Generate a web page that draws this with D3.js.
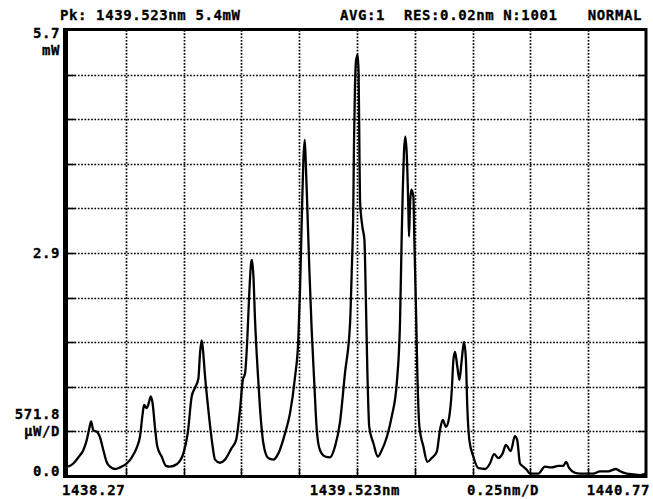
<!DOCTYPE html>
<html>
<head>
<meta charset="utf-8">
<style>
    body { margin: 0; background: white; }
    text { font-family: "DejaVu Sans Mono", "Liberation Mono", monospace; font-weight: bold; font-size: 14px; letter-spacing: 0.6px; fill: black; stroke: black; stroke-width: 0.3px; }
</style>
</head>
<body>
    <svg id="container" width="653" height="499">
        <g id="grid" />
        <g id="trace" />
        <g id="frame" />
        <g id="labels" />
    </svg>
</body>
<script src="https://cdn.jsdelivr.net/npm/d3@7"></script>
<script>
    // spectrum trace (nm, mW)
    let wavelength = [
        1438.271, 1438.293, 1438.315, 1438.336, 1438.351, 1438.362, 1438.370, 1438.379, 1438.397, 1438.408,
        1438.423, 1438.437, 1438.452, 1438.473, 1438.495, 1438.524, 1438.546, 1438.567, 1438.581, 1438.593,
        1438.599, 1438.610, 1438.619, 1438.628, 1438.636, 1438.646, 1438.656, 1438.675, 1438.694, 1438.711,
        1438.740, 1438.769, 1438.788, 1438.805, 1438.819, 1438.834, 1438.841, 1438.848, 1438.853, 1438.863,
        1438.877, 1438.892, 1438.906, 1438.927, 1438.949, 1438.978, 1438.997, 1439.014, 1439.026, 1439.036,
        1439.046, 1439.054, 1439.062, 1439.066, 1439.072, 1439.079, 1439.091, 1439.100, 1439.115, 1439.136,
        1439.158, 1439.180, 1439.209, 1439.230, 1439.252, 1439.266, 1439.274, 1439.281, 1439.288, 1439.294,
        1439.299, 1439.305, 1439.314, 1439.324, 1439.334, 1439.346, 1439.360, 1439.382, 1439.403, 1439.425,
        1439.446, 1439.468, 1439.490, 1439.497, 1439.504, 1439.507, 1439.511, 1439.516, 1439.523, 1439.527,
        1439.530, 1439.533, 1439.543, 1439.552, 1439.559, 1439.565, 1439.573, 1439.591, 1439.610, 1439.627,
        1439.649, 1439.670, 1439.692, 1439.706, 1439.713, 1439.718, 1439.723, 1439.729, 1439.735, 1439.742,
        1439.745, 1439.749, 1439.755, 1439.764, 1439.768, 1439.775, 1439.781, 1439.790, 1439.807, 1439.824,
        1439.843, 1439.865, 1439.879, 1439.891, 1439.905, 1439.919, 1439.930, 1439.937, 1439.944, 1439.954,
        1439.963, 1439.973, 1439.983, 1439.991, 1439.997, 1440.006, 1440.023, 1440.045, 1440.074, 1440.095,
        1440.113, 1440.131, 1440.150, 1440.164, 1440.185, 1440.203, 1440.213, 1440.225, 1440.239, 1440.254,
        1440.268, 1440.304, 1440.333, 1440.362, 1440.391, 1440.412, 1440.424, 1440.438, 1440.463, 1440.485,
        1440.514, 1440.542, 1440.571, 1440.607, 1440.640, 1440.658, 1440.687, 1440.715, 1440.744, 1440.770
    ]
    let power = [
        0.12, 0.16, 0.24, 0.33, 0.46, 0.61, 0.70, 0.59, 0.56, 0.50,
        0.33, 0.18, 0.12, 0.09, 0.11, 0.16, 0.24, 0.36, 0.50, 0.80,
        0.91, 0.87, 0.93, 1.02, 0.93, 0.63, 0.38, 0.25, 0.13, 0.12,
        0.15, 0.29, 0.55, 1.02, 1.13, 1.25, 1.57, 1.74, 1.64, 1.27,
        0.85, 0.46, 0.21, 0.17, 0.21, 0.36, 0.46, 0.85, 1.23, 1.32,
        1.79, 2.34, 2.73, 2.77, 2.56, 2.00, 1.32, 0.89, 0.42, 0.23,
        0.21, 0.29, 0.55, 0.80, 1.27, 1.74, 2.43, 3.28, 4.05, 4.31,
        3.97, 3.45, 2.64, 1.87, 1.27, 0.59, 0.33, 0.25, 0.24, 0.38,
        0.68, 1.32, 1.96, 2.60, 3.45, 4.27, 4.95, 5.33, 5.40, 5.16,
        4.31, 3.54, 3.20, 3.03, 2.17, 1.32, 0.63, 0.42, 0.25, 0.33,
        0.50, 0.76, 1.19, 1.96, 3.03, 3.67, 4.14, 4.35, 4.14, 3.45,
        3.07, 3.45, 3.67, 3.58, 3.03, 2.17, 1.32, 0.63, 0.38, 0.18,
        0.23, 0.31, 0.59, 0.72, 0.63, 0.76, 1.10, 1.49, 1.59, 1.40,
        1.23, 1.49, 1.72, 1.49, 0.89, 0.46, 0.25, 0.10, 0.09, 0.16,
        0.28, 0.23, 0.29, 0.40, 0.32, 0.51, 0.46, 0.16, 0.12, 0.08,
        0.03, 0.03, 0.12, 0.11, 0.13, 0.13, 0.18, 0.10, 0.04, 0.03,
        0.03, 0.03, 0.06, 0.06, 0.09, 0.06, 0.03, 0.02, 0.01, 0.03
    ]

    let startNm = 1438.27
    let stopNm = 1440.77
    let refLevel = 5.718
    let divisions = 10

    let headerLeft = "Pk: 1439.523nm 5.4mW"
    let headerAvg = "AVG:1"
    let headerRes = "RES:0.02nm N:1001"
    let headerMode = "NORMAL"
    let yLabels = ["5.7", "mW", "2.9", "571.8", "µW/D", "0.0"]
    let xLabels = ["1438.27", "1439.523nm", "0.25nm/D", "1440.77"]

    let plotLeft = 68, plotRight = 646, plotTop = 30, plotBottom = 476

    let x = d3.scaleLinear().domain([startNm, stopNm]).range([plotLeft, plotRight])
    let y = d3.scaleLinear().domain([0, refLevel]).range([plotBottom, plotTop])

    let grid = d3.select("#grid")
    let frame = d3.select("#frame")
    let labels = d3.select("#labels")

    let xDivs = d3.range(1, divisions).map(i => startNm + i * (stopNm - startNm) / divisions)
    let yDivs = d3.range(1, divisions).map(i => i * refLevel / divisions)

    // dotted graticule
    grid.selectAll(".vgrid").data(xDivs)
        .enter().append("line")
        .attr("class", "vgrid")
        .attr("x1", d => Math.round(x(d)) + 0.5).attr("x2", d => Math.round(x(d)) + 0.5)
        .attr("y1", plotTop).attr("y2", plotBottom)
        .attr("stroke", "black").attr("stroke-width", 1.7)
        .attr("stroke-dasharray", "1.7,1.6")

    grid.selectAll(".hgrid").data(yDivs)
        .enter().append("line")
        .attr("class", "hgrid")
        .attr("y1", d => Math.round(y(d)) + 0.5).attr("y2", d => Math.round(y(d)) + 0.5)
        .attr("x1", plotLeft).attr("x2", plotRight)
        .attr("stroke", "black").attr("stroke-width", 1.7)
        .attr("stroke-dasharray", "1.7,1.6")

    // small solid ticks on the frame
    frame.selectAll(".xtick").data(xDivs)
        .enter().append("line")
        .attr("x1", d => Math.round(x(d)) + 0.5).attr("x2", d => Math.round(x(d)) + 0.5)
        .attr("y1", plotBottom).attr("y2", plotBottom - 8)
        .attr("stroke", "black").attr("stroke-width", 1.5)

    frame.selectAll(".ytickl").data(yDivs)
        .enter().append("line")
        .attr("y1", d => Math.round(y(d)) + 0.5).attr("y2", d => Math.round(y(d)) + 0.5)
        .attr("x1", plotLeft).attr("x2", plotLeft + 8)
        .attr("stroke", "black").attr("stroke-width", 1.5)

    frame.selectAll(".ytickr").data(yDivs)
        .enter().append("line")
        .attr("y1", d => Math.round(y(d)) + 0.5).attr("y2", d => Math.round(y(d)) + 0.5)
        .attr("x1", plotRight).attr("x2", plotRight - 8)
        .attr("stroke", "black").attr("stroke-width", 1.5)

    // trace
    let line = d3.line()
        .x((d, i) => x(wavelength[i]))
        .y(d => y(d))
        .curve(d3.curveMonotoneX)

    d3.select("#trace").append("path")
        .datum(power)
        .attr("d", line)
        .attr("fill", "none")
        .attr("stroke", "black")
        .attr("stroke-width", 2.3)
        .attr("stroke-linejoin", "round")

    // frame, thick on the left
    frame.append("line").attr("x1", plotLeft - 2.5).attr("x2", plotLeft - 2.5).attr("y1", plotTop - 2).attr("y2", plotBottom + 2)
        .attr("stroke", "black").attr("stroke-width", 5)
    frame.append("line").attr("x1", plotLeft - 5).attr("x2", plotRight + 1).attr("y1", plotTop - 0.5).attr("y2", plotTop - 0.5)
        .attr("stroke", "black").attr("stroke-width", 3)
    frame.append("line").attr("x1", plotLeft - 5).attr("x2", plotRight + 1).attr("y1", plotBottom + 0.5).attr("y2", plotBottom + 0.5)
        .attr("stroke", "black").attr("stroke-width", 3)
    frame.append("line").attr("x1", plotRight).attr("x2", plotRight).attr("y1", plotTop - 2).attr("y2", plotBottom + 2)
        .attr("stroke", "black").attr("stroke-width", 3)

    // header
    labels.append("text").attr("x", 60).attr("y", 20).text(headerLeft)
    labels.append("text").attr("x", 340).attr("y", 20).text(headerAvg)
    labels.append("text").attr("x", 404).attr("y", 20).text(headerRes)
    labels.append("text").attr("x", 642).attr("y", 20).attr("text-anchor", "end").text(headerMode)

    // y labels
    let yLabelPos = [
        [yLabels[0], y(refLevel) + 8],
        [yLabels[1], y(refLevel) + 25],
        [yLabels[2], y(refLevel / 2) + 5],
        [yLabels[3], y(refLevel / 10) - 12],
        [yLabels[4], y(refLevel / 10) + 5],
        [yLabels[5], y(0)]
    ]
    labels.selectAll(".ylab").data(yLabelPos)
        .enter().append("text")
        .attr("class", "ylab")
        .attr("x", 60)
        .attr("y", d => d[1])
        .attr("text-anchor", "end")
        .text(d => d[0])

    // x labels
    labels.append("text").attr("x", 62).attr("y", 495).text(xLabels[0])
    labels.append("text").attr("x", x((startNm + stopNm) / 2) - 2).attr("y", 495).attr("text-anchor", "middle").text(xLabels[1])
    labels.append("text").attr("x", 503).attr("y", 495).attr("text-anchor", "middle").text(xLabels[2])
    labels.append("text").attr("x", 650).attr("y", 495).attr("text-anchor", "end").text(xLabels[3])
</script>
</html>
